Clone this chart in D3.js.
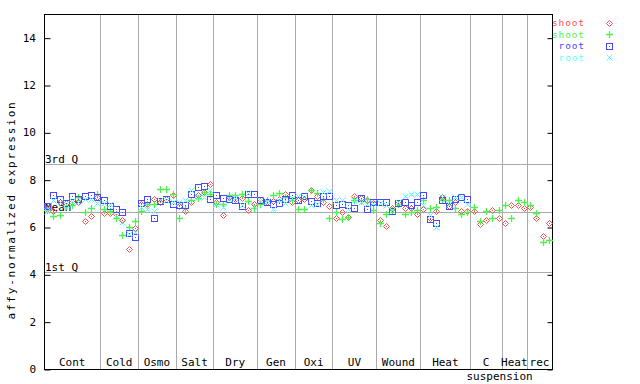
<!DOCTYPE html>
<html><head><meta charset="utf-8">
<script src="https://cdn.jsdelivr.net/npm/d3@7"></script>
<style>body{margin:0;background:#fff}svg{display:block}text{font-family:"DejaVu Sans Mono",monospace;font-size:11px}</style>
</head><body>
<svg id="c" width="640" height="384"></svg>
<script>
const categories = ["Cont","Cold","Osmo","Salt","Dry","Gen","Oxi","UV","Wound","Heat","C suspension","Heat","rec"];
const groupSizes = [9,6,6,6,7,6,6,7,7,8,5,4,4];
const yTicks = [0,2,4,6,8,10,12,14];
const refNames = ["3rd Q","Mean","1st Q"];
const refValues = [8.68,6.62,4.08];
const seriesNames = ["shoot","shoot","root","root"];
const shootRed = [
 6.75,6.67,7.06,7.0,7.04,7.06,6.24,6.46,7.27,
 6.60,6.60,6.57,6.29,5.09,5.94,
 6.99,6.99,7.20,7.06,7.20,7.34,
 6.9,6.68,7.06,7.34,7.48,7.83,
 7.06,6.50,7.27,7.20,7.24,6.71,6.96,
 7.10,7.06,7.10,7.20,7.41,7.06,
 7.13,7.20,7.58,7.30,7.06,6.88,
 6.36,6.64,6.44,7.30,7.24,7.13,7.02,
 6.29,6.03,6.82,7.02,6.82,6.82,6.53,
 6.74,6.36,6.68,7.27,6.88,7.06,6.67,6.68,
 6.67,6.12,6.29,6.71,6.40,
 6.15,6.92,6.92,6.82,
 6.85,6.40,5.61,6.19];
const shootGreen = [
 6.71,6.46,6.49,6.9,6.92,7.27,6.64,6.82,7.41,
 6.78,6.67,6.40,5.65,6.0,6.26,
 6.67,6.96,6.96,7.59,7.62,7.41,
 6.40,6.8,7.16,7.24,7.48,7.41,
 6.99,6.96,7.34,7.34,7.38,7.10,6.82,
 6.96,7.16,7.34,7.45,7.27,7.13,
 6.74,6.78,7.58,7.44,7.20,6.36,
 6.64,6.32,6.44,7.16,7.10,7.20,6.71,
 6.15,6.53,6.71,6.99,6.57,6.64,6.71,
 7.16,6.82,6.85,7.13,7.13,6.82,6.54,6.64,
 6.85,6.24,6.67,6.40,6.71,
 6.92,6.36,7.16,7.06,
 6.92,6.61,5.37,5.47];
const rootBlue = [
 6.89,7.34,7.19,7.02,7.33,7.19,7.29,7.37,7.27,
 7.12,6.88,6.74,6.65,5.74,5.56,
 7.03,7.20,6.36,7.10,7.20,6.99,
 6.91,6.91,7.38,7.67,7.72,7.20,
 7.34,7.24,7.20,7.13,6.90,7.41,7.41,
 7.16,7.06,6.99,7.02,7.20,7.37,
 7.16,7.30,7.10,7.02,7.30,7.30,
 6.92,6.99,6.92,6.82,7.24,6.78,7.06,
 7.06,7.06,6.67,7.02,7.06,6.92,7.06,
 7.34,6.32,6.17,7.16,6.88,7.20,7.27,7.20,
 null,null,null,null,null,null,null,null,null,null,null,null,null];
const rootCyan = [
 6.67,7.13,7.06,6.99,7.10,7.05,7.17,7.2,7.02,
 7.0,6.99,6.50,6.22,5.70,5.79,
 6.85,6.78,6.67,7.16,7.16,7.06,
 7.06,7.13,7.58,7.27,7.27,7.55,
 6.99,6.85,7.20,7.24,6.92,7.44,6.88,
 7.13,7.10,6.78,7.16,7.02,7.24,
 7.30,7.27,6.92,6.96,7.48,7.52,
 7.16,7.16,6.75,7.13,7.06,6.99,7.02,
 7.0,6.92,6.71,7.06,7.30,7.41,7.41,
 6.92,6.50,5.98,7.27,6.99,7.27,7.27,6.99,
 null,null,null,null,null,null,null,null,null,null,null,null,null];

const colors = ["#ff5050","#50f050","#4848ff","#60ffff"];
const shapes = ["diamond","plus","square","cross"];
const series = [shootRed, shootGreen, rootBlue, rootCyan];

const L=44, R=552, T=14, B=369;
const nSamples = d3.sum(groupSizes);
const x = d3.scaleLinear().domain([0,nSamples]).range([L,R]);
const y = d3.scaleLinear().domain([0,15]).range([B,T]);
const svg = d3.select("#c");

// group boundaries
const bounds = [0]; groupSizes.forEach(s=>bounds.push(bounds[bounds.length-1]+s));
svg.append("g").selectAll("line").data(bounds.slice(1,-1)).join("line")
  .attr("x1",d=>Math.round(x(d))+0.5).attr("x2",d=>Math.round(x(d))+0.5)
  .attr("y1",T).attr("y2",B).attr("stroke","#aaaaaa");

// reference lines
svg.append("g").selectAll("line").data(refValues).join("line")
  .attr("x1",L).attr("x2",R).attr("y1",d=>Math.round(y(d))+0.5).attr("y2",d=>Math.round(y(d))+0.5)
  .attr("stroke","#aaaaaa");
svg.append("g").selectAll("text").data(refValues).join("text")
  .attr("x",L+1).attr("y",d=>Math.round(y(d))-1).text((d,i)=>refNames[i]).attr("fill","#000");

// frame
svg.append("rect").attr("x",L+0.5).attr("y",T+0.5).attr("width",R-L).attr("height",B-T)
  .attr("fill","none").attr("stroke","#000");

// y axes (inward ticks)
const yl = svg.append("g").attr("transform",`translate(${L+0.5},0)`)
  .call(d3.axisRight(y).tickValues(yTicks).tickSize(6).tickFormat(""));
yl.select(".domain").remove();
yl.selectAll("line").attr("transform","translate(0,0.5)");
const yr = svg.append("g").attr("transform",`translate(${R+0.5},0)`)
  .call(d3.axisLeft(y).tickValues(yTicks).tickSize(5).tickFormat(""));
yr.select(".domain").remove();
yr.selectAll("line").attr("transform","translate(0,0.5)");
svg.append("g").selectAll("text").data(yTicks).join("text")
  .attr("x",36).attr("y",d=>y(d)+4).attr("text-anchor","end").text(d=>d);

svg.append("text").attr("transform","translate(15,210) rotate(-90)")
  .attr("text-anchor","middle").style("letter-spacing","1.8px").text("affy-normalized expression");

// x labels
categories.forEach((c,i)=>{
  const cx = x((bounds[i]+bounds[i+1])/2);
  const parts = c.split(" ");
  svg.append("text").attr("x",cx).attr("y",366).attr("text-anchor","middle").text(parts[0]);
  if(parts[1]) svg.append("text").attr("x",x(bounds[i])-4).attr("y",380).attr("text-anchor","start").text(parts[1]);
});

function marker(g, shape, color, cx, cy){
  cx=Math.round(cx)+0.5; cy=Math.round(cy)+0.5;
  if(shape==="square"){
    g.append("rect").attr("x",cx-3).attr("y",cy-3).attr("width",6).attr("height",6).attr("fill","none").attr("stroke",color);
    g.append("rect").attr("x",cx-0.5).attr("y",cy-0.5).attr("width",1).attr("height",1).attr("fill",color);
  } else if(shape==="diamond"){
    g.append("path").attr("d",`M${cx},${cy-3}L${cx+3},${cy}L${cx},${cy+3}L${cx-3},${cy}Z`).attr("fill","none").attr("stroke",color);
    g.append("rect").attr("x",cx-0.5).attr("y",cy-0.5).attr("width",1).attr("height",1).attr("fill",color);
  } else if(shape==="plus"){
    g.append("path").attr("d",`M${cx-3.5},${cy}H${cx+3.5}M${cx},${cy-3.5}V${cy+3.5}`).attr("stroke",color).attr("stroke-width",1.3);
  } else {
    g.append("path").attr("d",`M${cx-3},${cy-3}L${cx+3},${cy+3}M${cx+3},${cy-3}L${cx-3},${cy+3}`).attr("stroke",color);
  }
}

series.forEach((vals,s)=>{
  const g = svg.append("g");
  vals.forEach((v,i)=>{ if(v!=null) marker(g, shapes[s], colors[s], x(i+0.5), y(v)); });
});

// legend
seriesNames.forEach((n,i)=>{
  const ly = 22.5 + i*11.5;
  svg.append("text").attr("x",585).attr("y",ly+3.5).attr("text-anchor","end").attr("fill",colors[i])
    .style("font-size","9.5px").style("letter-spacing","0.9px").text(n);
  marker(svg.append("g"), shapes[i], colors[i], 609, ly);
});
</script>
</body></html>
